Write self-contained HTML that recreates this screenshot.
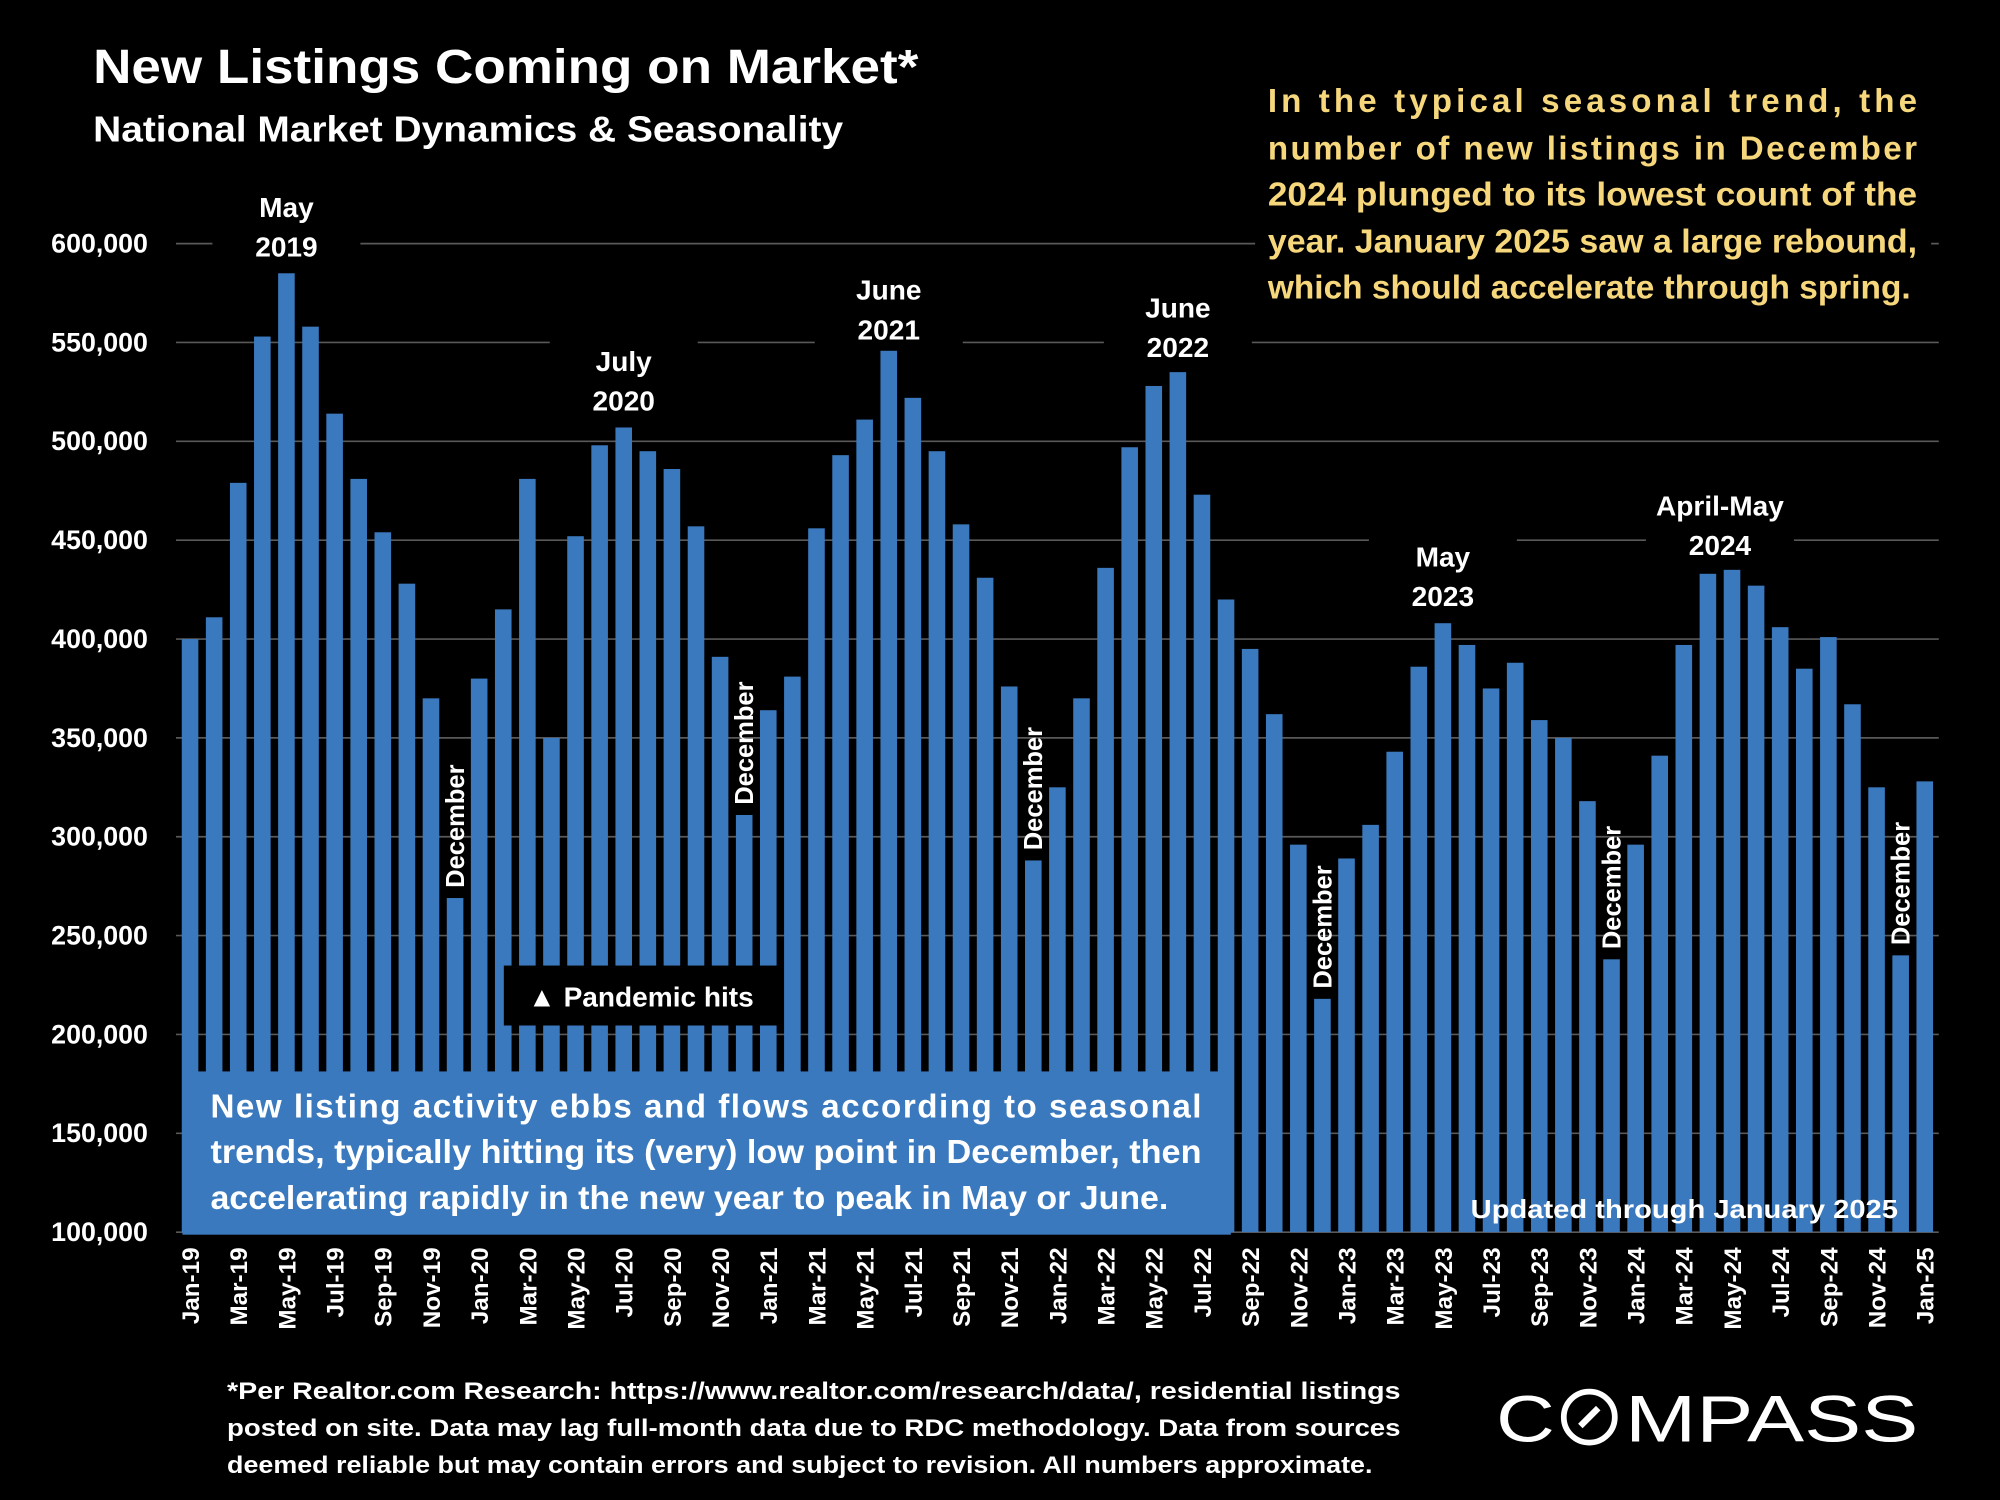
<!DOCTYPE html>
<html><head><meta charset="utf-8"><style>
html,body{margin:0;padding:0;background:#000;}
svg{display:block;}
text{font-family:"Liberation Sans",sans-serif;font-weight:bold;fill:#fff;}
</style></head><body>
<svg id="chart" width="2000" height="1500" viewBox="0 0 1568 1176" xmlns="http://www.w3.org/2000/svg">
<rect width="1568" height="1176" fill="#000"/>
<g id="grid"></g>
<g id="bars"></g>
<g id="xlabels"></g>
<g id="ylabels"></g>
<g id="declabels"></g>
<text x="73" y="65" font-size="38" textLength="647" lengthAdjust="spacingAndGlyphs">New Listings Coming on Market*</text>
<text x="73" y="111" font-size="28" textLength="588" lengthAdjust="spacingAndGlyphs">National Market Dynamics &amp; Seasonality</text>
<g font-size="26">
<rect x="984" y="55" width="530" height="195" fill="#000"/>
<text x="994" y="88" textLength="509" lengthAdjust="spacing" style="fill:#F6D77C">In the typical seasonal trend, the</text>
<text x="994" y="125" textLength="509" lengthAdjust="spacing" style="fill:#F6D77C">number of new listings in December</text>
<text x="994" y="161" textLength="509" lengthAdjust="spacingAndGlyphs" style="fill:#F6D77C">2024 plunged to its lowest count of the</text>
<text x="994" y="198" textLength="509" lengthAdjust="spacingAndGlyphs" style="fill:#F6D77C">year. January 2025 saw a large rebound,</text>
<text x="994" y="234" textLength="504" lengthAdjust="spacingAndGlyphs" style="fill:#F6D77C">which should accelerate through spring.</text>
</g>
<g id="peaks" font-size="22" text-anchor="middle"></g>
<g>
<rect x="395" y="757" width="217" height="47" fill="#000"/>
<text x="414" y="789" font-size="22">▲ Pandemic hits</text>
</g>
<g>
<rect x="143" y="840" width="822" height="128" fill="#3A79BE"/>
<text x="165" y="876" font-size="26" textLength="777" lengthAdjust="spacing">New listing activity ebbs and flows according to seasonal</text>
<text x="165" y="912" font-size="26" textLength="777" lengthAdjust="spacingAndGlyphs">trends, typically hitting its (very) low point in December, then</text>
<text x="165" y="948" font-size="26" textLength="751" lengthAdjust="spacingAndGlyphs">accelerating rapidly in the new year to peak in May or June.</text>
</g>
<text x="1153" y="955" font-size="20" textLength="335" lengthAdjust="spacingAndGlyphs">Updated through January 2025</text>
<g font-size="19">
<text x="178" y="1097" textLength="920" lengthAdjust="spacingAndGlyphs">*Per Realtor.com Research:  https://www.realtor.com/research/data/, residential listings</text>
<text x="178" y="1126" textLength="920" lengthAdjust="spacingAndGlyphs">posted on site. Data may lag full-month data due to RDC methodology. Data from sources</text>
<text x="178" y="1155" textLength="898" lengthAdjust="spacingAndGlyphs">deemed reliable but may contain errors and subject to revision. All numbers approximate.</text>
</g>
<g>
<text x="1173" y="1130" font-size="52" style="font-weight:normal" textLength="46" lengthAdjust="spacingAndGlyphs">C</text>
<circle cx="1246" cy="1111" r="20" fill="none" stroke="#fff" stroke-width="4.5"/>
<line x1="1239" y1="1118" x2="1253" y2="1104" stroke="#fff" stroke-width="5"/>
<text x="1274" y="1130" font-size="52" style="font-weight:normal" textLength="230" lengthAdjust="spacingAndGlyphs">MPASS</text>
</g>
</svg>
<script>
const months = ["Jan","Feb","Mar","Apr","May","Jun","Jul","Aug","Sep","Oct","Nov","Dec"];
const yearsShort = ["19","20","21","22","23","24","25"];
const listings = [
400,411,479,553,585,558,514,481,454,428,370,269,
380,415,481,350,452,498,507,495,486,457,391,311,
364,381,456,493,511,547,522,495,458,431,376,288,
325,370,436,497,528,535,473,420,395,362,296,218,
289,306,343,386,408,397,375,388,359,350,318,238,
296,341,397,433,435,427,406,385,401,367,325,240,
328].map(v=>v*1000);
const yTicks = [100000,150000,200000,250000,300000,350000,400000,450000,500000,550000,600000];
const peakNames = ["May","July","June","June","May","April-May"];
const peakYears = ["2019","2020","2021","2022","2023","2024"];
const peakIndex = [4,18,29,41,52,63.5];
const peakTextY = [170,291,235,249,444,404];

const NS="http://www.w3.org/2000/svg";
const yMin=100000,yMax=600000,yBot=966,yTop=191;
const xFirst=149,xStep=(1509-149)/72,bw=13;
function yScale(v){return yBot-(v-yMin)/(yMax-yMin)*(yBot-yTop);}
function xScale(i){return xFirst+i*xStep;}
function mk(tag,attrs,parent){const e=document.createElementNS(NS,tag);for(const k in attrs)e.setAttribute(k,attrs[k]);parent.appendChild(e);return e;}

const grid=document.getElementById('grid');
const yl=document.getElementById('ylabels');
yTicks.forEach(t=>{
  const y=yScale(t);
  const l=mk('line',{x1:138,x2:1520,y1:y,y2:y,stroke:'#595959','stroke-width':1.3},grid);
  
  
  const tx=mk('text',{x:116,y:y+7,'font-size':21,'text-anchor':'end'},yl);
  tx.textContent=t.toLocaleString('en-US');
  
  
});
const bars=document.getElementById('bars');
const xl=document.getElementById('xlabels');
const dl=document.getElementById('declabels');
listings.forEach((v,i)=>{
  const x=xScale(i),y=yScale(v);
  const r=mk('rect',{x:x-bw/2,y:y,width:bw,height:yBot-y,fill:'#3A79BE'},bars);
  
  
  const m=months[i%12],yr=yearsShort[Math.floor(i/12)];
  if(i%2===0){
    const t=mk('text',{transform:`translate(${x+7},${978}) rotate(-90)`,'font-size':19,'text-anchor':'end'},xl);
    t.textContent=m+'-'+yr;
    
    
  }
  if(i%12===11){
    const t=mk('text',{transform:`translate(${x+7},${y-8}) rotate(-90)`,'font-size':20,'text-anchor':'start'},dl);
    t.textContent='December';
    
    
  }
});
const pk=document.getElementById('peaks');
peakNames.forEach((n,k)=>{
  const x=xScale(peakIndex[k]);
  const ty=peakTextY[k];
  mk('rect',{x:x-58,y:ty-26,width:116,height:66,fill:'#000'},pk);
  const t1=mk('text',{x:x,y:ty},pk);t1.textContent=n;
  
  
  const t2=mk('text',{x:x,y:ty+31},pk);t2.textContent=peakYears[k];
  
  
});
</script>
</body></html>
